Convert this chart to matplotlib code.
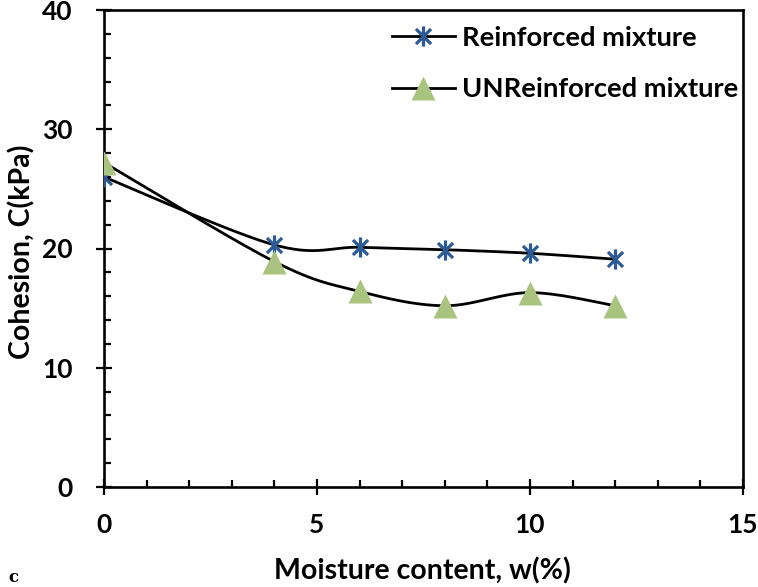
import numpy as np
import matplotlib
matplotlib.use("Agg")
import matplotlib.pyplot as plt
from matplotlib.path import Path
from matplotlib.ticker import MultipleLocator
from matplotlib.lines import Line2D

# ---- data ----
moisture = [0, 4, 6, 8, 10, 12]
reinforced = [26.0, 20.3, 20.1, 19.9, 19.6, 19.1]
unreinforced = [27.2, 18.9, 16.4, 15.2, 16.3, 15.2]
series_labels = ["Reinforced mixture", "UNReinforced mixture"]
x_ticks = [0, 5, 10, 15]
y_ticks = [0, 10, 20, 30, 40]

plt.rcParams['font.family'] = ['Lato', 'DejaVu Sans']

W, H = 758, 587
fig = plt.figure(figsize=(W/100, H/100), dpi=100)
ax = fig.add_axes([104/W, 1-487/H, (743-104)/W, (487-10)/H])


def smooth(xs, ys, n=30):
    """Excel-like smoothed line: Catmull-Rom converted to cubic Bezier."""
    P = np.column_stack([xs, ys]).astype(float)
    out = [P[0]]
    m = len(P)
    for i in range(m - 1):
        p0 = P[i - 1] if i > 0 else P[i]
        p1 = P[i]
        p2 = P[i + 1]
        p3 = P[i + 2] if i + 2 < m else P[i + 1]
        c1 = p1 + (p2 - p0) / 6.0
        c2 = p2 - (p3 - p1) / 6.0
        t = np.linspace(0, 1, n)[1:, None]
        seg = ((1 - t) ** 3) * p1 + 3 * ((1 - t) ** 2) * t * c1 + 3 * (1 - t) * t ** 2 * c2 + t ** 3 * p2
        out.extend(seg)
    out = np.array(out)
    return out[:, 0], out[:, 1]

star = Path([(0, -1), (0, 1), (-0.75, -0.75), (0.75, 0.75), (-0.75, 0.75), (0.75, -0.75)],
            [Path.MOVETO, Path.LINETO, Path.MOVETO, Path.LINETO, Path.MOVETO, Path.LINETO])

blue = '#2B5A96'
green = '#A8C47E'
FS = 19
FS_LAB = 20.5
FS_LEG = 19.7

sx, sy = smooth(moisture, reinforced)
ax.plot(sx, sy, color='black', lw=2.0, zorder=2)
ax.plot(moisture, reinforced, ls='none', marker=star, ms=14.5, mew=2.3,
        mec=blue, mfc='none', zorder=3)

ux, uy = smooth(moisture, unreinforced)
ax.plot(ux, uy, color='black', lw=2.0, zorder=2)
ax.plot(moisture, unreinforced, ls='none', marker='^', ms=17, mec='none',
        mfc=green, zorder=4)

ax.set_xlim(0, 15)
ax.set_ylim(0, 40)
ax.set_xticks(x_ticks)
ax.set_yticks(y_ticks)
ax.xaxis.set_minor_locator(MultipleLocator(1))
ax.yaxis.set_minor_locator(MultipleLocator(2))

for s in ax.spines.values():
    s.set_linewidth(1.9)
    s.set_color('black')

ax.tick_params(which='major', direction='inout', length=11, width=1.6,
               labelsize=FS, top=False, right=False)
ax.tick_params(axis='x', which='major', pad=13)
ax.tick_params(axis='y', which='major', pad=17)
ax.tick_params(which='minor', direction='in', length=5, width=1.6, top=False, right=False)
for lab in ax.get_xticklabels() + ax.get_yticklabels():
    lab.set_fontweight('bold')

fig.text(22/W, 1-252/H, 'Cohesion, C(kPa)', fontsize=FS_LAB, fontweight='bold',
         rotation=90, ha='center', va='center')
fig.text(422/W, 1-571/H, 'Moisture content, w(%)', fontsize=FS_LAB, fontweight='bold',
         ha='center', va='center')

handles = [
    Line2D([0], [0], color='black', lw=2.0, marker=star, ms=14.5, mew=2.3, mec=blue, mfc='none'),
    Line2D([0], [0], color='black', lw=2.0, marker='^', ms=17, mec='none', mfc=green),
]
leg = ax.legend(handles, series_labels, loc='center left',
                bbox_to_anchor=((392-104)/639, 1-(63.5-10)/477),
                frameon=False, prop={'size': FS_LEG, 'weight': 'bold'},
                handlelength=63/(FS_LEG*100/72), handletextpad=0.26, labelspacing=1.0,
                borderpad=0, borderaxespad=0)

fig.text(8/W, 1-578/H, 'c', family='DejaVu Serif', fontweight='bold', fontsize=12,
         va='center', ha='left')

fig.savefig('out.png', dpi=100)
